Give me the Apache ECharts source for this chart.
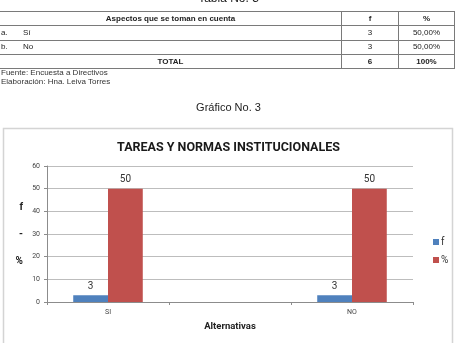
<!DOCTYPE html>
<html>
<head>
<meta charset="utf-8">
<script src="https://cdn.jsdelivr.net/npm/echarts@6/dist/echarts.min.js"></script>
<style>
  html, body { margin: 0; padding: 0; background: #fff; width: 457px; height: 343px; overflow: hidden; }
  #chart { position: absolute; left: 0; top: 0; width: 457px; height: 343px; }
  .txt { position: absolute; font-family: "Liberation Sans", Arial, sans-serif; color: #222; white-space: nowrap; }
  #tbl { position: absolute; left: 0; top: 11px; width: 455px; border-collapse: collapse; font-family: "Liberation Sans", Arial, sans-serif; font-size: 8px; color: #222; z-index: 2; }
  #tbl td { border-top: 1px solid #7a7a7a; border-bottom: 1px solid #7a7a7a; height: 13.3px; padding: 0; line-height: 12px; }
  #tbl td.c { border-left: 1px solid #7a7a7a; text-align: center; }
  #tbl td.r { border-right: 1px solid #7a7a7a; }
  #tbl .b { font-weight: bold; }
</style>
</head>
<body>
<div id="chart"></div>
<div class="txt" id="tabla" style="left:0;width:457px;text-align:center;top:-9px;font-size:12px;z-index:2;"></div>
<table id="tbl"></table>
<div class="txt" id="fuente" style="left:1px;top:68px;font-size:8px;line-height:9px;z-index:2;color:#333;"></div>
<div class="txt" id="grafico" style="left:0;width:457px;text-align:center;top:101px;font-size:11px;z-index:2;"></div>
<script>
// ---- data ----
const tableTitle = 'Tabla No. 3';
const tableHeader = ['Aspectos que se toman en cuenta', 'f', '%'];
const rowLetters = ['a.', 'b.'];
const rowNames = ['Sí', 'No'];
const rowF = [3, 3];
const rowPct = ['50,00%', '50,00%'];
const totalRow = ['TOTAL', 6, '100%'];
const sourceLines = ['Fuente: Encuesta a Directivos', 'Elaboración: Hna. Leiva Torres'];
const figureCaption = 'Gráfico No. 3';

const chartTitle = 'TAREAS Y NORMAS INSTITUCIONALES';
const categories = ['SI', '', 'NO'];
const seriesNames = ['f', '%'];
const fValues = [3, '-', 3];
const pctValues = [50, '-', 50];
const yMin = 0, yMax = 60, yInterval = 10;
const xAxisName = 'Alternativas';
const yAxisName = ['f', '-', '%'];

// ---- html table ----
document.getElementById('tabla').textContent = tableTitle;
document.getElementById('grafico').textContent = figureCaption;
document.getElementById('fuente').innerHTML = sourceLines.join('<br>');
const tbl = document.getElementById('tbl');
let html = '<tr><td class="b" style="width:341px;text-align:center;">' + tableHeader[0] + '</td>' +
  '<td class="c b" style="width:56px;">' + tableHeader[1] + '</td><td class="c b r">' + tableHeader[2] + '</td></tr>';
for (let i = 0; i < rowNames.length; i++) {
  html += '<tr><td><span style="display:inline-block;width:22px;padding-left:1px;">' + rowLetters[i] + '</span>' + rowNames[i] + '</td>' +
    '<td class="c">' + rowF[i] + '</td><td class="c r">' + rowPct[i] + '</td></tr>';
}
html += '<tr><td class="b" style="text-align:center;">' + totalRow[0] + '</td><td class="c b">' + totalRow[1] + '</td><td class="c b r">' + totalRow[2] + '</td></tr>';
tbl.innerHTML = html;

// ---- chart ----
const FONT = 'Roboto, "Liberation Sans", sans-serif';
const chart = echarts.init(document.getElementById('chart'));
chart.setOption({
  animation: false,
  backgroundColor: 'transparent',
  title: {
    text: chartTitle,
    left: 'center',
    top: 136,
    textStyle: { fontFamily: FONT, fontSize: 12.5, fontWeight: 'bold', color: '#1a1a1a' }
  },
  graphic: [{
    type: 'rect', z: -10, silent: true,
    shape: { x: 3.5, y: 128.5, width: 449, height: 222 },
    style: { fill: '#fff', stroke: '#d4d4d4', lineWidth: 1.5 }
  }],
  legend: {
    orient: 'vertical',
    left: 428,
    top: 232,
    itemWidth: 6,
    itemHeight: 6,
    itemGap: 8,
    icon: 'rect',
    textStyle: { fontFamily: FONT, fontSize: 10, color: '#333', padding: [0, 0, 0, -3] },
    data: seriesNames
  },
  grid: { left: 47, right: 44, top: 166, bottom: 41, containLabel: false },
  xAxis: {
    type: 'category',
    data: categories,
    name: xAxisName,
    nameLocation: 'middle',
    nameGap: 20,
    nameTextStyle: { fontFamily: FONT, fontSize: 9.5, fontWeight: 'bold', color: '#222' },
    axisLine: { lineStyle: { color: '#8c8c8c' } },
    axisTick: { show: true, length: 3, lineStyle: { color: '#8c8c8c' } },
    axisLabel: { fontFamily: FONT, fontSize: 7, color: '#444', margin: 7 }
  },
  yAxis: {
    type: 'value',
    min: yMin, max: yMax, interval: yInterval,
    name: yAxisName.join('\n\n'),
    nameLocation: 'middle',
    nameRotate: 0,
    nameGap: 24,
    nameTextStyle: { fontFamily: FONT, fontSize: 10, fontWeight: 'bold', color: '#222', lineHeight: 13.5, padding: [4, 0, 0, 0] },
    axisLine: { show: true, lineStyle: { color: '#8c8c8c' } },
    axisTick: { show: true, length: 3, inside: false, lineStyle: { color: '#8c8c8c' } },
    axisLabel: { fontFamily: FONT, fontSize: 7, color: '#444', margin: 7 },
    splitLine: { lineStyle: { color: '#bdbdbd' } }
  },
  series: [
    {
      name: seriesNames[0], type: 'bar', data: fValues,
      barGap: '0%', barCategoryGap: '43%',
      itemStyle: { color: '#4f81bd' },
      label: { show: true, position: 'top', distance: 4, fontFamily: FONT, fontSize: 10, color: '#333' }
    },
    {
      name: seriesNames[1], type: 'bar', data: pctValues,
      barGap: '0%', barCategoryGap: '43%',
      itemStyle: { color: '#c0504d' },
      label: { show: true, position: 'top', distance: 4, fontFamily: FONT, fontSize: 10, color: '#333' }
    }
  ]
});
</script>
</body>
</html>
